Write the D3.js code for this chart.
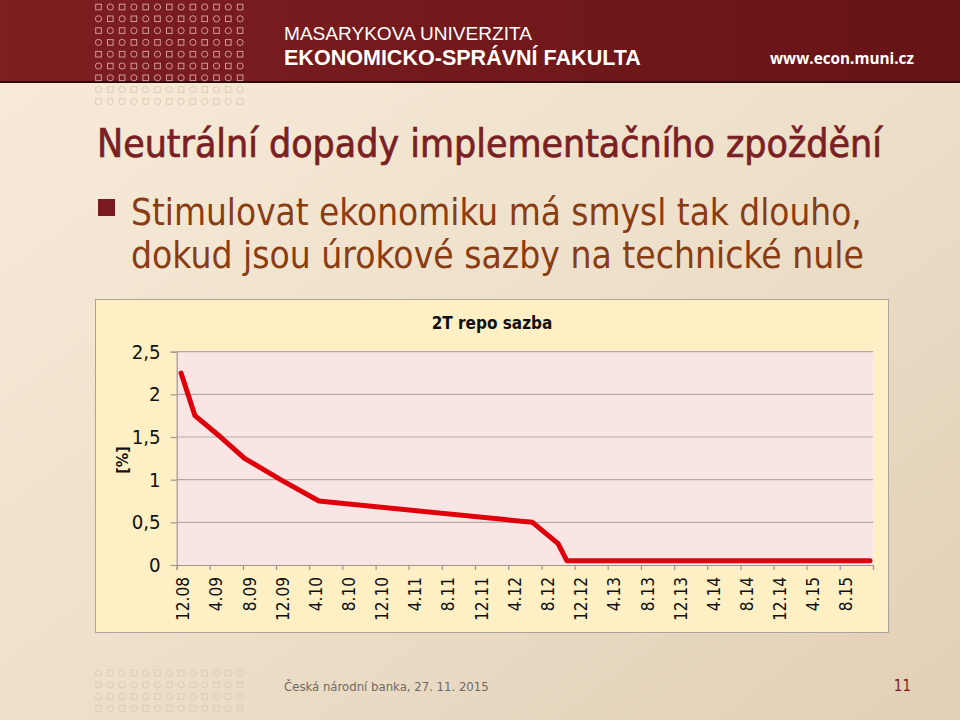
<!DOCTYPE html>
<html><head><meta charset="utf-8">
<script src="https://cdn.jsdelivr.net/npm/d3@7"></script>
<style>body{margin:0;background:#fff}svg{display:block}</style>
</head><body>
<script>
// ---- data ----
const rateDates = ["2008-12-17","2009-02-06","2009-05-11","2009-08-07","2009-12-17","2010-05-07","2012-06-29","2012-10-01","2012-11-02","2015-11-20"];
const rateValues = [2.25,1.75,1.5,1.25,1.0,0.75,0.5,0.25,0.05,0.05];
const xTickLabels = ["12.08","4.09","8.09","12.09","4.10","8.10","12.10","4.11","8.11","12.11","4.12","8.12","12.12","4.13","8.13","12.13","4.14","8.14","12.14","4.15","8.15"];
const yTickValues = [0,0.5,1,1.5,2,2.5];
const chartTitle = "2T repo sazba";
const yAxisTitle = "[%]";
const slideTitle = "Neutrální dopady implementačního zpoždění";
const bulletLines = ["Stimulovat ekonomiku má smysl tak dlouho,","dokud jsou úrokové sazby na technické nule"];
const footerText = "Česká národní banka, 27. 11. 2015";
const pageNumber = "11";

const W = 960, H = 720;
const svg = d3.select("body").append("svg").attr("width", W).attr("height", H);
const defs = svg.append("defs");

const bg = defs.append("linearGradient").attr("id","bg").attr("x1",0).attr("y1",0).attr("x2",1).attr("y2",1);
bg.append("stop").attr("offset",0).attr("stop-color","#f8ecda");
bg.append("stop").attr("offset",0.5).attr("stop-color","#eee0ca");
bg.append("stop").attr("offset",1).attr("stop-color","#e2cfb6");
const hg = defs.append("linearGradient").attr("id","hg").attr("x1",0).attr("y1",0).attr("x2",1).attr("y2",0);
hg.append("stop").attr("offset",0).attr("stop-color","#7e1e21");
hg.append("stop").attr("offset",1).attr("stop-color","#661416");

svg.append("rect").attr("width",W).attr("height",H).attr("fill","url(#bg)");
svg.append("rect").attr("width",W).attr("height",82).attr("fill","url(#hg)");
svg.append("rect").attr("y",81).attr("width",W).attr("height",2).attr("fill","#2e0a0a");

function fit(sel, target){
  const w = sel.node().getComputedTextLength();
  const fs = parseFloat(sel.attr("font-size"));
  sel.attr("font-size", (fs*target/w).toFixed(2));
  return sel;
}

// dotted pattern
function pattern(y0, rows, startRow, color, op){
  const g = svg.append("g").attr("fill","none").attr("stroke",color).attr("stroke-width",1).attr("opacity",op);
  for(let r=0;r<rows;r++){
    for(let c=0;c<13;c++){
      const cx = 98.5 + c*11.8, cy = y0 + r*11.8;
      if(((r+startRow)+c)%2===0){
        g.append("rect").attr("x",cx-2.8).attr("y",cy-2.8).attr("width",5.6).attr("height",5.6);
      } else {
        g.append("circle").attr("cx",cx).attr("cy",cy).attr("r",3.1);
      }
    }
  }
}
pattern(7, 7, 0, "#f0c4c4", 0.75);
pattern(89.6, 2, 1, "#d9c7b0", 0.8);
pattern(673, 4, 1, "#dcc9b2", 0.8);

// header texts
fit(svg.append("text").attr("x",284).attr("y",40).attr("font-family","Liberation Sans").attr("font-size",19)
  .attr("fill","#fff").text("MASARYKOVA UNIVERZITA"), 248);
fit(svg.append("text").attr("x",284).attr("y",64.5).attr("font-family","Liberation Sans").attr("font-weight","bold").attr("font-size",22)
  .attr("fill","#fff").text("EKONOMICKO-SPRÁVNÍ FAKULTA"), 357);
fit(svg.append("text").attr("x",770).attr("y",64).attr("font-family","Open Sans").attr("font-weight","bold").attr("font-size",16)
  .attr("fill","#fff").text("www.econ.muni.cz"), 144);

// slide title
fit(svg.append("text").attr("x",97).attr("y",157).attr("font-family","DejaVu Sans Condensed").attr("font-size",36)
  .attr("fill","#7a1f24").attr("stroke","#7a1f24").attr("stroke-width",0.7).text(slideTitle), 785);

// bullet
svg.append("rect").attr("x",98).attr("y",199).attr("width",17).attr("height",17).attr("fill","#7a1a1e");
bulletLines.forEach((t,i)=>{
  fit(svg.append("text").attr("x",131).attr("y",225+i*43).attr("font-family","DejaVu Sans Condensed").attr("font-size",33)
    .attr("fill","#8a3c12").text(t), i===0?731:733);
});

// chart box
svg.append("rect").attr("x",95.5).attr("y",299.5).attr("width",793).attr("height",333)
  .attr("fill","#fef0c4").attr("stroke","#aaa49c").attr("stroke-width",1);

const parse = d3.timeParse("%Y-%m-%d");
const data = rateDates.map((d,i)=>({date: parse(d), v: rateValues[i]}));
const xStart = new Date(2008,11,1), xEnd = new Date(2015,11,1);
const x = d3.scaleTime().domain([xStart, xEnd]).range([176.7, 873]);
const y = d3.scaleLinear().domain([0,2.5]).range([565, 351.7]);

svg.append("rect").attr("x",x.range()[0]).attr("y",y(2.5)).attr("width",x.range()[1]-x.range()[0]).attr("height",y(0)-y(2.5))
  .attr("fill","#f9e6e4");

// grid
svg.append("g").selectAll("line").data(yTickValues.filter(d=>d>0)).join("line")
  .attr("x1",x.range()[0]).attr("x2",x.range()[1]).attr("y1",d=>y(d)).attr("y2",d=>y(d))
  .attr("stroke","#b3aaa8").attr("stroke-width",1.2);

const tickDates = d3.timeMonth.range(xStart, d3.timeMonth.offset(xEnd,1), 4);
const xAxis = svg.append("g").attr("transform",`translate(0,${y(0)})`)
  .call(d3.axisBottom(x).tickValues(tickDates).tickSizeOuter(0).tickSize(5).tickFormat((d,i)=>xTickLabels[i]||""));
xAxis.selectAll("path,line").attr("stroke","#9c9694").attr("stroke-width",1.2);
const xt = xAxis.selectAll("text").attr("transform","rotate(-90)").attr("text-anchor","end")
  .attr("x",-12).attr("y",6).attr("dy","0.35em")
  .attr("font-family","DejaVu Sans Condensed").attr("font-size",16).attr("fill","#111");
// scale label font so "12.08" spans ~44px as in the reference
{
  const first = xt.filter((d,i)=>i===0).node();
  const k = 44 / first.getComputedTextLength();
  xt.attr("font-size", (16*k).toFixed(2)).attr("dy","0.36em");
}

const yAxis = svg.append("g").attr("transform",`translate(${x.range()[0]},0)`)
  .call(d3.axisLeft(y).tickValues(yTickValues).tickSizeOuter(0).tickSize(6).tickPadding(10)
    .tickFormat(d=>String(d).replace(".",",")));
yAxis.selectAll("path,line").attr("stroke","#9c9694").attr("stroke-width",1.2);
const yt = yAxis.selectAll("text").attr("font-family","DejaVu Sans Condensed").attr("font-size",17).attr("fill","#111");
{
  const last = yt.filter(d=>d===2.5).node();
  const k = 29 / last.getComputedTextLength();
  yt.attr("font-size", (17*k).toFixed(2));
}

svg.append("text").attr("transform","translate(122,460) rotate(-90)").attr("text-anchor","middle")
  .attr("dy","0.35em").attr("font-family","DejaVu Sans Condensed").attr("font-weight","bold").attr("font-size",16)
  .attr("fill","#111").text(yAxisTitle);

svg.append("text").attr("x",492).attr("y",329).attr("text-anchor","middle").attr("font-family","DejaVu Sans Condensed")
  .attr("font-weight","bold").attr("font-size",17).attr("fill","#111").text(chartTitle);

// line
svg.append("path").datum(data).attr("fill","none").attr("stroke","#e0000b").attr("stroke-width",5)
  .attr("stroke-linejoin","round").attr("stroke-linecap","round")
  .attr("d", d3.line().x(d=>x(d.date)).y(d=>y(d.v)));

// footer
fit(svg.append("text").attr("x",284).attr("y",691).attr("font-family","DejaVu Sans Condensed").attr("font-size",15)
  .attr("fill","#6e6a66").text(footerText), 205);
svg.append("text").attr("x",911).attr("y",691).attr("text-anchor","end").attr("font-family","DejaVu Sans Condensed")
  .attr("font-size",15).attr("fill","#7a1a1e").text(pageNumber);
</script>
</body></html>
